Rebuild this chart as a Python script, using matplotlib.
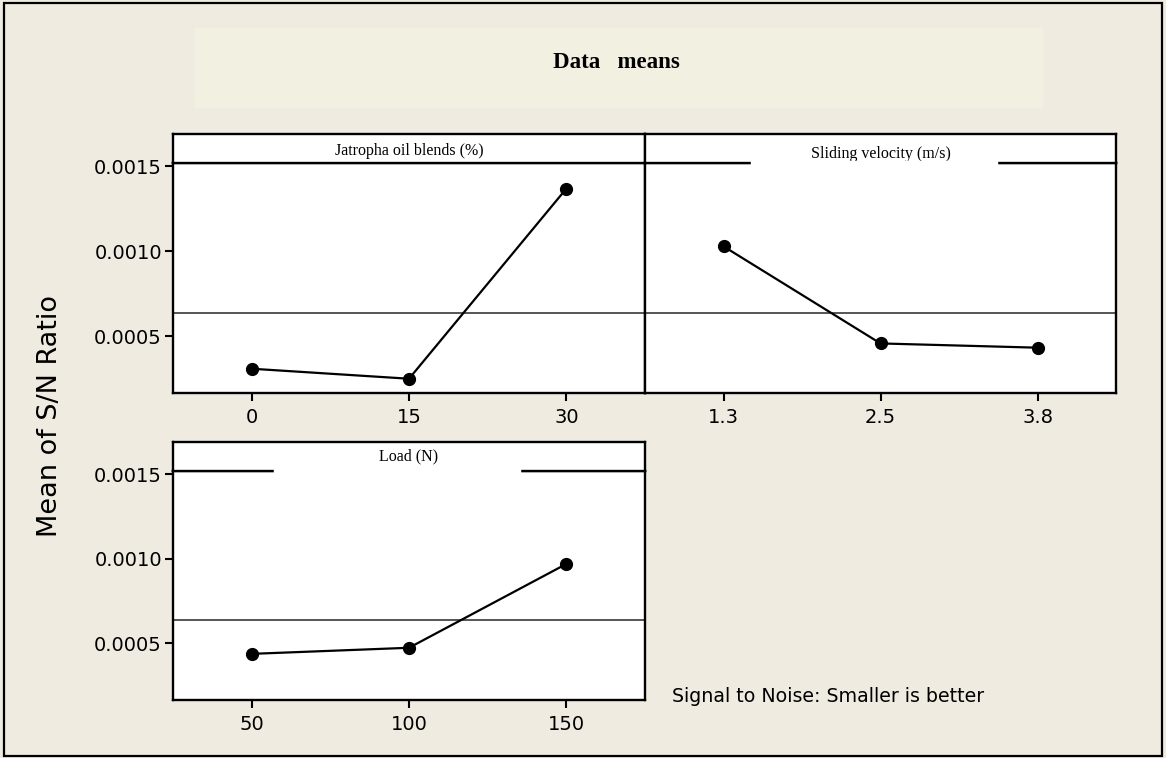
import numpy as np
import matplotlib.pyplot as plt
from matplotlib.patches import Rectangle

# main effects for S/N ratios (data means)
factor_names = ["Jatropha oil blends (%)", "Sliding velocity (m/s)", "Load (N)"]
blend_levels = ["0", "15", "30"]
blend_means = [0.000308, 0.000249, 0.001369]
velocity_levels = ["1.3", "2.5", "3.8"]
velocity_means = [0.001029, 0.000457, 0.000432]
load_levels = ["50", "100", "150"]
load_means = [0.000438, 0.000474, 0.000970]
y_ticks = [0.0005, 0.0010, 0.0015]
y_tick_labels = ["0.0005", "0.0010", "0.0015"]

grand_mean = np.mean(blend_means + velocity_means + load_means)

W, H = 1166, 758
BG = "#efebe1"
fig = plt.figure(figsize=(W / 100, H / 100), dpi=100, facecolor=BG)


def px_axes(x0, y0, x1, y1):
    return fig.add_axes([x0 / W, 1 - y1 / H, (x1 - x0) / W, (y1 - y0) / H])


# outer frame and title box
fig.patches.append(Rectangle((4 / W, 2 / H), 1158 / W, 753 / H, transform=fig.transFigure,
                             fill=False, edgecolor="black", linewidth=1.6))
fig.patches.append(Rectangle((195 / W, 1 - 108 / H), 848 / W, 80 / H, transform=fig.transFigure,
                             facecolor="#f2f0e1", edgecolor="none"))
fig.text(616 / W, 1 - 63 / H, "Data   means", ha="center", va="center",
         family="Liberation Serif", fontweight="bold", fontsize=16.5)


def draw_panel(box, strip_box, levels, means, title, show_y, title_y=0.5, gap=None):
    ax = px_axes(*box)
    x = np.arange(1, len(levels) + 1)
    ax.axhline(grand_mean, color="#555555", linewidth=1.4, zorder=1)
    ax.plot(x, means, color="black", linewidth=1.6, marker="o", markersize=8.5, zorder=3)
    ax.set_xlim(0.5, len(levels) + 0.5)
    ax.set_ylim(0.000165, 0.00152)
    ax.set_xticks(x)
    ax.set_xticklabels(levels)
    ax.set_yticks(y_ticks)
    ax.set_yticklabels(y_tick_labels)
    ax.tick_params(axis="x", direction="out", length=6, width=1.5, pad=5, labelsize=14)
    if show_y:
        ax.tick_params(axis="y", direction="out", length=6, width=1.5, pad=2, labelsize=14)
    else:
        ax.tick_params(axis="y", left=False, labelleft=False)
    for s in ax.spines.values():
        s.set_linewidth(1.7)
    ax.set_facecolor("white")

    sax = px_axes(*strip_box)
    sax.set_xticks([])
    sax.set_yticks([])
    sax.set_facecolor("white")
    for s in sax.spines.values():
        s.set_linewidth(1.7)
    sax.text(0.5, title_y, title, ha="center", va="center", family="Liberation Serif",
             fontsize=11.5, transform=sax.transAxes)
    if gap is not None:
        sax.axhline(0, gap[0], gap[1], color="white", linewidth=3.2, clip_on=False, zorder=5)
    return ax


draw_panel((173, 163, 645, 393), (173, 134, 645, 163), blend_levels, blend_means,
           factor_names[0], True, title_y=0.4)
draw_panel((645, 163, 1116, 393), (645, 134, 1116, 163), velocity_levels, velocity_means,
           factor_names[1], False, title_y=0.3, gap=(0.23, 0.745))
draw_panel((173, 471, 645, 700), (173, 442, 645, 471), load_levels, load_means,
           factor_names[2], True, title_y=0.5, gap=(0.218, 0.733))

fig.text(50 / W, 1 - 416 / H, "Mean of S/N Ratio", rotation=90, ha="center", va="center",
         fontsize=19.5)
fig.text(672 / W, 1 - 697 / H, "Signal to Noise: Smaller is better", ha="left", va="center",
         fontsize=13.7)

fig.savefig("out.png", dpi=100, facecolor=BG)
